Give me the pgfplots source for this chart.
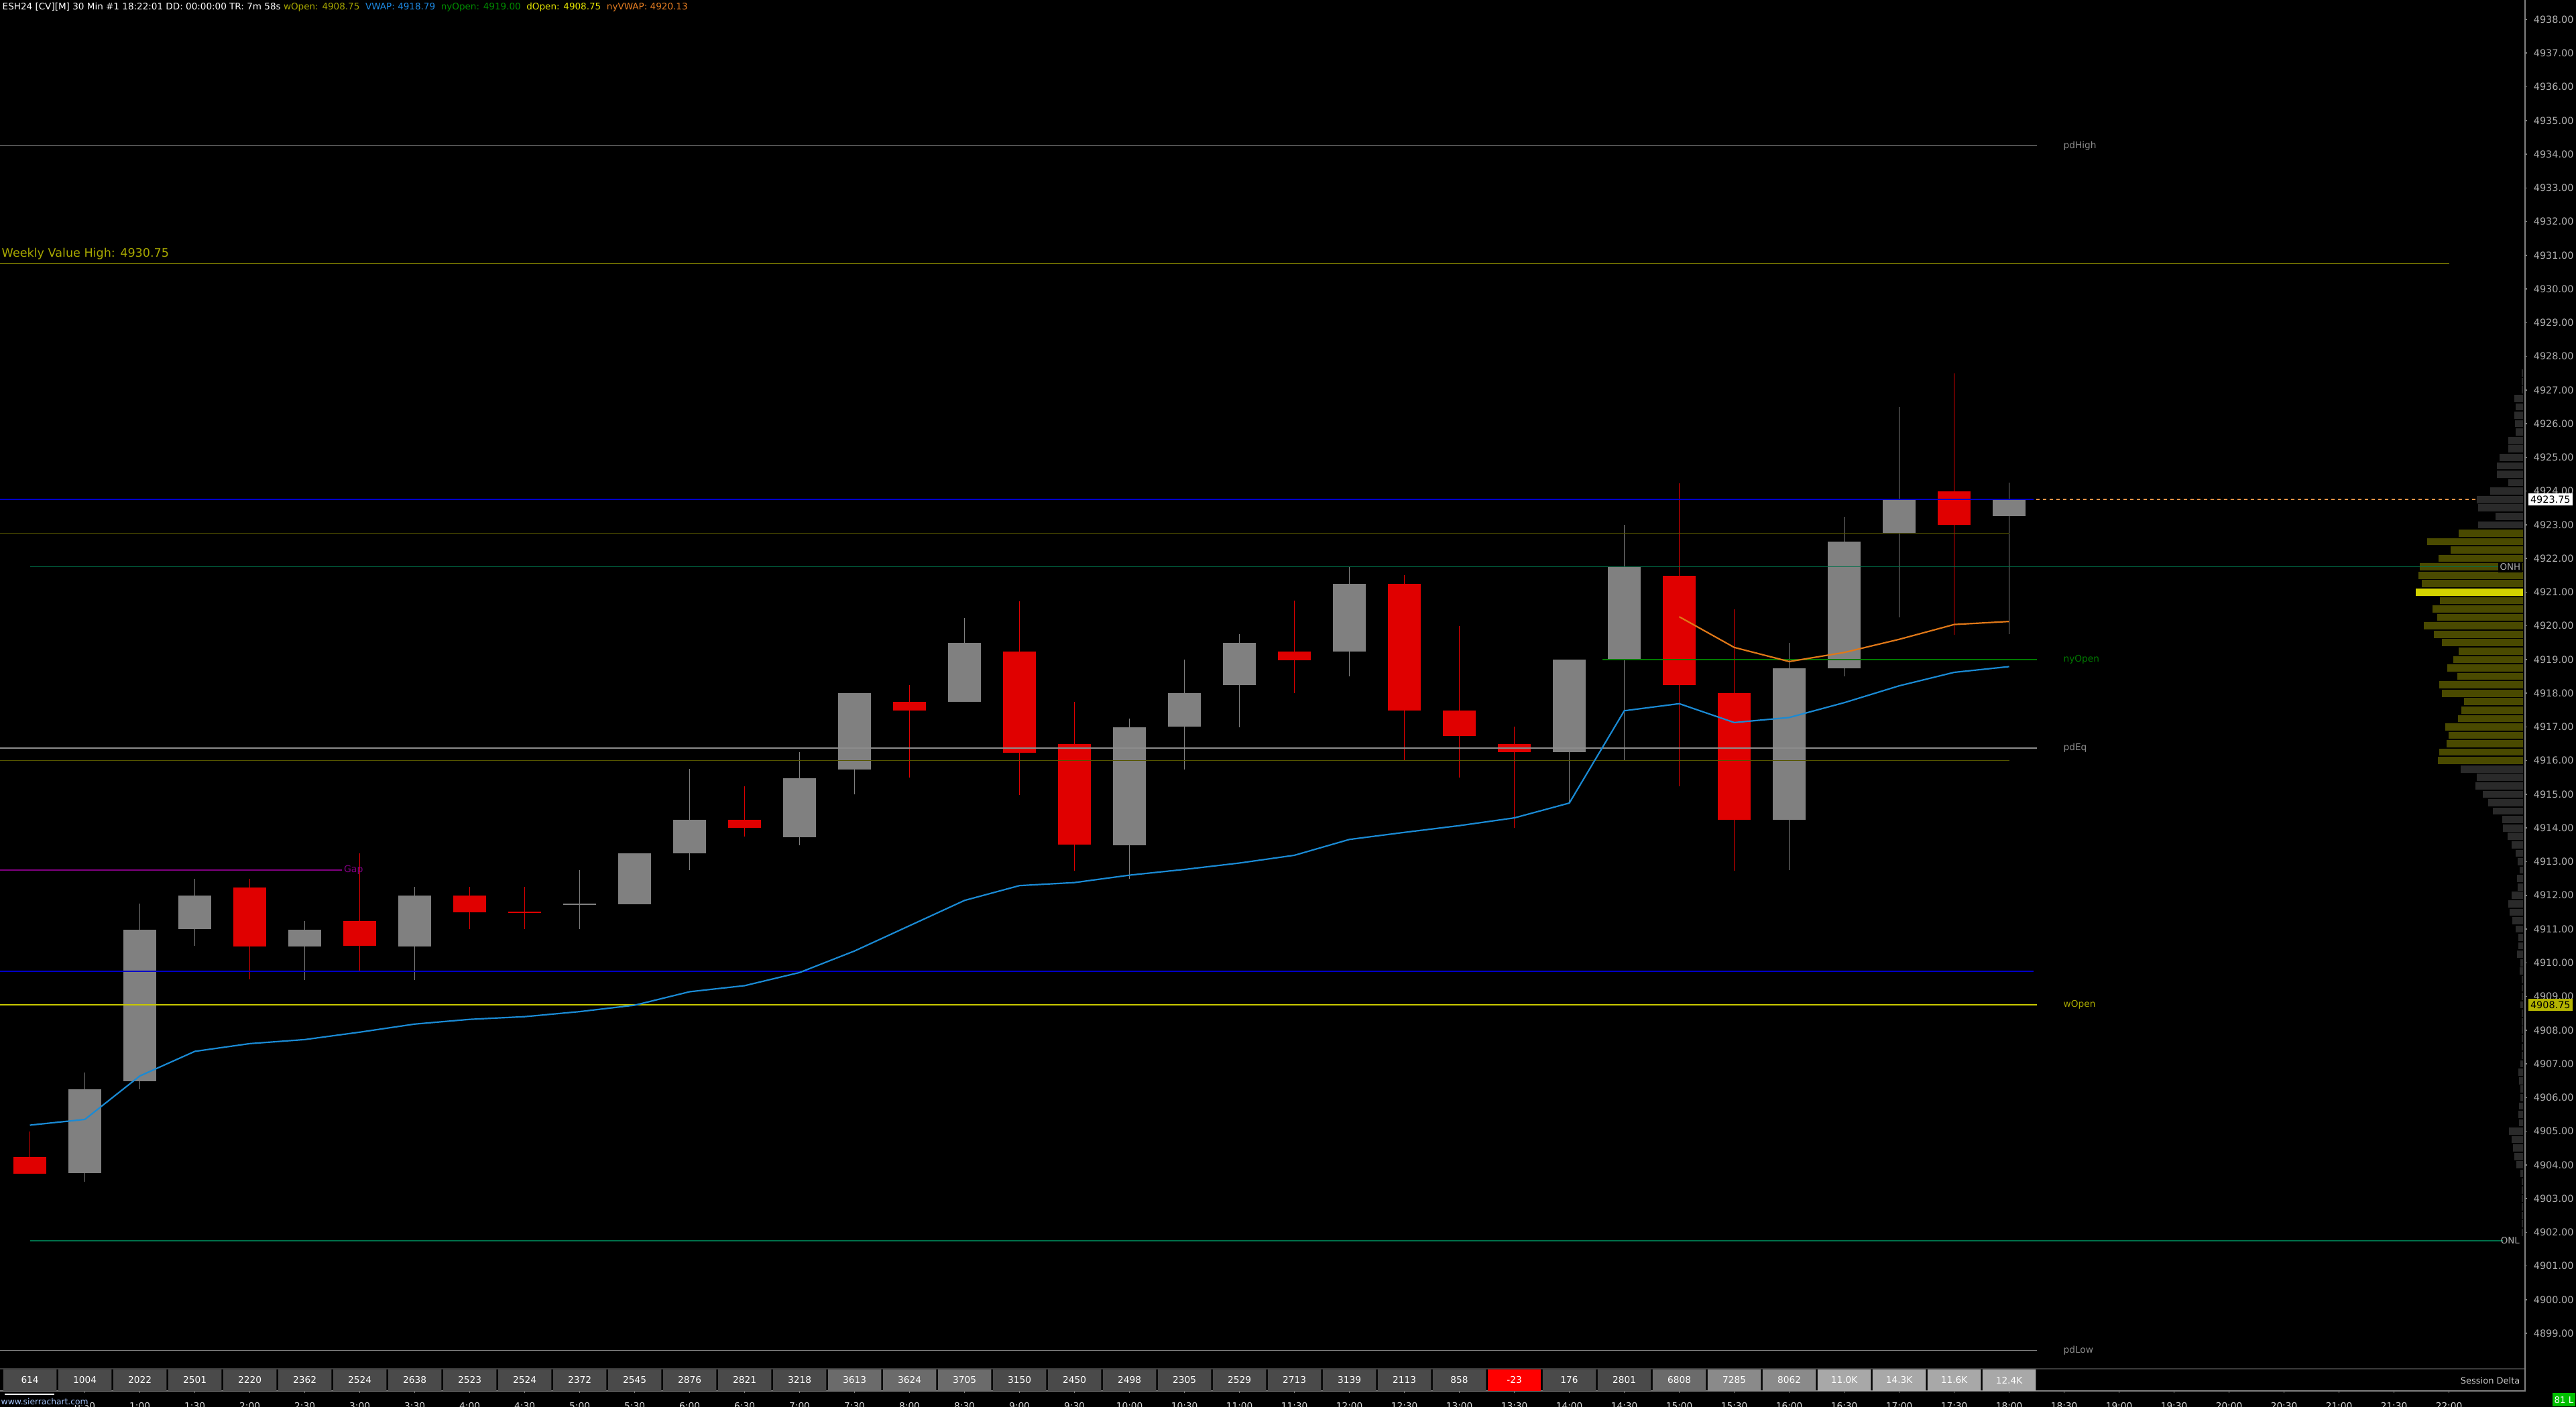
\documentclass[border=0pt]{standalone}
\usepackage{fontspec}
\setmainfont{DejaVu Sans}
\usepackage{pgfplots}
\usepackage{pgfplotstable}
\pgfplotsset{compat=1.18}

\definecolor{cgrey}{HTML}{808080}
\definecolor{cred}{HTML}{E00000}
\definecolor{vwapc}{HTML}{1A8AD4}
\definecolor{nyvwapc}{HTML}{E07818}
\definecolor{axisgrey}{HTML}{808080}
\definecolor{ticktext}{HTML}{B0B0B0}
\definecolor{profgrey}{HTML}{2A2A2A}
\definecolor{profolive}{HTML}{4A4A00}
\definecolor{profpoc}{HTML}{D4D400}
\definecolor{wvh}{HTML}{A8A800}
\definecolor{lblue}{HTML}{0000C8}
\definecolor{lolive}{HTML}{555500}
\definecolor{lteal}{HTML}{00704A}
\definecolor{lgreen}{HTML}{007A00}
\definecolor{lgap}{HTML}{800080}
\definecolor{lyellow}{HTML}{C8C800}
\definecolor{lgrey}{HTML}{8C8C8C}
\definecolor{dk}{HTML}{4A4A4A}
\definecolor{dm}{HTML}{6B6B6B}
\definecolor{dl}{HTML}{8A8A8A}
\definecolor{dx}{HTML}{A8A8A8}
\definecolor{dred}{HTML}{FF0000}
\definecolor{hwopen}{HTML}{A8A800}
\definecolor{hvwap}{HTML}{1E8CE6}
\definecolor{hnyopen}{HTML}{008C00}
\definecolor{hdopen}{HTML}{E6E600}
\definecolor{hnyvwap}{HTML}{E67E22}
\definecolor{priceyel}{HTML}{B4B400}
\definecolor{green81}{HTML}{00C000}
\definecolor{sclink}{HTML}{A8C8FF}
\definecolor{sepline}{HTML}{3A3A3A}

\newcommand\fs[1]{\fontsize{#1}{#1}\selectfont}

% candles: x = 30-min slot (0 = 0:00)
\pgfplotstableread{
x o h l c
1 4903.75 4906.75 4903.5 4906.25
2 4906.5 4911.75 4906.25 4911.0
3 4911.0 4912.5 4910.5 4912.0
5 4910.5 4911.25 4909.5 4911.0
7 4910.5 4912.25 4909.5 4912.0
10 4911.75 4912.75 4911.0 4911.75
11 4911.75 4913.25 4911.75 4913.25
12 4913.25 4915.75 4912.75 4914.25
14 4913.75 4916.25 4913.5 4915.5
15 4915.75 4918.0 4915.0 4918.0
17 4917.75 4920.25 4917.75 4919.5
20 4913.5 4917.25 4912.5 4917.0
21 4917.0 4919.0 4915.75 4918.0
22 4918.25 4919.75 4917.0 4919.5
24 4919.25 4921.75 4918.5 4921.25
28 4916.25 4919.0 4914.75 4919.0
29 4919.0 4923.0 4916.0 4921.75
32 4914.25 4919.5 4912.75 4918.75
33 4918.75 4923.25 4918.5 4922.5
34 4922.75 4926.5 4920.25 4923.75
36 4923.25 4924.25 4919.75 4923.75
}\upT

\pgfplotstableread{
x o h l c
0 4904.25 4905.0 4903.75 4903.75
4 4912.25 4912.5 4909.5 4910.5
6 4911.25 4913.25 4909.75 4910.5
8 4912.0 4912.25 4911.0 4911.5
9 4911.5 4912.25 4911.0 4911.5
13 4914.25 4915.25 4913.75 4914.0
16 4917.75 4918.25 4915.5 4917.5
18 4919.25 4920.75 4915.0 4916.25
19 4916.5 4917.75 4912.75 4913.5
23 4919.25 4920.75 4918.0 4919.0
25 4921.25 4921.5 4916.0 4917.5
26 4917.5 4920.0 4915.5 4916.75
27 4916.5 4917.0 4914.0 4916.25
30 4921.5 4924.25 4915.25 4918.25
31 4918.0 4920.5 4912.75 4914.25
35 4924.0 4927.5 4919.75 4923.0
}\downT

\pgfplotstableread{
x v
0 4905.18
1 4905.35
2 4906.64
3 4907.37
4 4907.60
5 4907.72
6 4907.94
7 4908.18
8 4908.32
9 4908.40
10 4908.55
11 4908.74
12 4909.14
13 4909.32
14 4909.71
15 4910.35
16 4911.10
17 4911.85
18 4912.29
19 4912.38
20 4912.60
21 4912.77
22 4912.96
23 4913.19
24 4913.66
25 4913.87
26 4914.07
27 4914.30
28 4914.74
29 4917.48
30 4917.69
31 4917.13
32 4917.28
33 4917.72
34 4918.22
35 4918.62
36 4918.79
}\vwapT

\pgfplotstableread{
x v
30 4920.27
31 4919.36
32 4918.94
33 4919.21
34 4919.60
35 4920.04
36 4920.13
}\nyvwapT

% volume profile: price, bar length in screen px
\pgfplotstableread{
p len
4927.5 1.5
4927.25 1.5
4927.0 1.5
4926.75 13
4926.5 11
4926.25 13
4926.0 12
4925.75 11
4925.5 22
4925.25 22
4925.0 35
4924.75 39
4924.5 39
4924.25 22
4924.0 49
4923.75 69
4923.5 67
4923.25 41
4923.0 67
4915.75 93
4915.5 69
4915.25 71
4915.0 60
4914.75 52
4914.5 45
4914.25 31
4914.0 30
4913.75 23
4913.5 17
4913.25 11
4913.0 8
4912.75 5
4912.5 9
4912.25 8
4912.0 17
4911.75 22
4911.5 20
4911.25 16
4911.0 11
4910.75 7
4910.5 7
4910.25 9
4910.0 4
4909.75 5
4909.5 2
4909.25 1.5
4909.0 1.5
4908.75 4
4908.5 1.5
4908.25 1.5
4908.0 1.5
4907.75 1.5
4907.5 1.5
4907.25 1.5
4907.0 4
4906.75 7
4906.5 6
4906.25 4
4906.0 4
4905.75 6
4905.5 7
4905.25 6
4905.0 21
4904.75 17
4904.5 15
4904.25 13
4904.0 10
4903.75 4
4903.5 1.5
4903.25 1.5
4903.0 1.5
4902.75 1.5
4902.5 1.5
4902.25 1.5
4902.0 1.5
}\profGrey

\pgfplotstableread{
p len
4922.75 96
4922.5 143
4922.25 108
4922.0 126
4921.75 154
4921.5 156
4921.25 151
4920.75 124
4920.5 135
4920.25 128
4920.0 148
4919.75 133
4919.5 121
4919.25 96
4919.0 104
4918.75 113
4918.5 98
4918.25 125
4918.0 121
4917.75 88
4917.5 92
4917.25 97
4917.0 116
4916.75 111
4916.5 114
4916.25 125
4916.0 127
}\profOlive

\pgfplotstableread{
p len
4921.0 160
}\profPoc

\pgfplotstableread{
x lab
0 614
1 1004
2 2022
3 2501
4 2220
5 2362
6 2524
7 2638
8 2523
9 2524
10 2372
11 2545
12 2876
13 2821
14 3218
15 3613
16 3624
17 3705
18 3150
19 2450
20 2498
21 2305
22 2529
23 2713
24 3139
25 2113
26 858
27 -23
28 176
29 2801
30 6808
31 7285
32 8062
33 11.0K
34 14.3K
35 11.6K
36 12.4K
}\deltaT

\pgfplotsset{
  hbars/.style={draw=none, mark=none, error bars/.cd, x dir=both, x explicit, error mark=none,
    error bar style={draw=#1, line width=1.07mm}},
  vbars/.style 2 args={draw=none, mark=none, error bars/.cd, y dir=both, y explicit, error mark=none,
    error bar style={draw=#1, line width=#2}},
}

\begin{document}
\begin{tikzpicture}
\fill[black] (0,0) rectangle (384.2mm,209.9mm);

% ---------------- main price axis ----------------
\begin{axis}[
  at={(0mm,5.7mm)}, anchor=south west, scale only axis,
  width=376.6mm, height=204.2mm,
  xmin=-0.5439, xmax=45.383, ymin=4897.948, ymax=4938.577,
  axis x line=none, axis y line=right,
  y axis line style={-, draw=axisgrey, line width=0.2mm},
  ytick={4899,4900,...,4938},
  tick align=outside, major tick length=0.35mm,
  ytick style={draw=axisgrey, line width=0.15mm},
  scaled y ticks=false,
  yticklabel style={font=\fs{4.1pt}, text=ticktext, anchor=west, xshift=-0.3mm,
    /pgf/number format/.cd, fixed, fixed zerofill, precision=2, 1000 sep={}, assume math mode=true},
  clip mode=individual,
]
% current price dashed line
\addplot[draw=nyvwapc!80!white, line width=0.15mm, dash pattern=on 0.5mm off 0.5mm] coordinates {(36,4923.75) (45.383,4923.75)};

% volume profile
\addplot[hbars=profgrey]
  table[x expr={45.346-\thisrow{len}/164}, y=p, x error expr={\thisrow{len}/164}] {\profGrey};
\addplot[hbars=profolive]
  table[x expr={45.346-\thisrow{len}/164}, y=p, x error expr={\thisrow{len}/164}] {\profOlive};
\addplot[hbars=profpoc]
  table[x expr={45.346-\thisrow{len}/164}, y=p, x error expr={\thisrow{len}/164}] {\profPoc};

% candles: wicks
\addplot[vbars={cgrey}{0.15mm}]
  table[x=x, y expr={(\thisrow{h}+\thisrow{l})/2}, y error expr={(\thisrow{h}-\thisrow{l})/2}] {\upT};
\addplot[vbars={cred}{0.15mm}]
  table[x=x, y expr={(\thisrow{h}+\thisrow{l})/2}, y error expr={(\thisrow{h}-\thisrow{l})/2}] {\downT};
% candles: bodies
\addplot[vbars={cgrey}{4.9mm}]
  table[x=x, y expr={(\thisrow{o}+\thisrow{c})/2}, y error expr={max(abs(\thisrow{o}-\thisrow{c})/2,0.02)}] {\upT};
\addplot[vbars={cred}{4.9mm}]
  table[x=x, y expr={(\thisrow{o}+\thisrow{c})/2}, y error expr={max(abs(\thisrow{o}-\thisrow{c})/2,0.02)}] {\downT};

% horizontal reference lines
\addplot[lgrey, line width=0.15mm] coordinates {(-0.6,4934.25) (36.5,4934.25)};
\addplot[wvh, line width=0.15mm] coordinates {(-0.6,4930.75) (44.0,4930.75)};
\addplot[lblue, line width=0.15mm] coordinates {(-0.6,4923.75) (36.45,4923.75)};
\addplot[lolive, line width=0.15mm] coordinates {(-0.6,4922.75) (36,4922.75)};
\addplot[lteal, line width=0.15mm] coordinates {(0,4921.75) (44.95,4921.75)};
\addplot[lgreen, line width=0.15mm] coordinates {(28.6,4919.0) (36.5,4919.0)};
\addplot[lgrey, line width=0.15mm] coordinates {(-0.6,4916.375) (36.5,4916.375)};
\addplot[lolive, line width=0.15mm] coordinates {(-0.6,4916.0) (36,4916.0)};
\addplot[lgap, line width=0.15mm] coordinates {(-0.6,4912.75) (5.68,4912.75)};
\addplot[lblue, line width=0.15mm] coordinates {(-0.6,4909.75) (36.45,4909.75)};
\addplot[lyellow, line width=0.15mm] coordinates {(-0.6,4908.75) (36.5,4908.75)};
\addplot[lteal, line width=0.15mm] coordinates {(0,4901.75) (44.98,4901.75)};
\addplot[lgrey, line width=0.15mm] coordinates {(-0.6,4898.5) (36.5,4898.5)};

% VWAP lines
\addplot[vwapc, line width=0.22mm] table[x=x, y=v] {\vwapT};
\addplot[nyvwapc, line width=0.22mm] table[x=x, y=v] {\nyvwapT};

% labels
\node[anchor=south west, inner sep=0.2mm, text=wvh, font=\fs{5pt}] at (axis cs:-0.5439,4930.82) {Weekly Value High: 4930.75};
\node[anchor=west, inner sep=0.2mm, text=lgap, font=\fs{4pt}] at (axis cs:5.68,4912.75) {Gap};
\node[anchor=west, inner sep=0pt, text=lgrey, font=\fs{3.9pt}] at (axis cs:36.98,4934.25) {pdHigh};
\node[anchor=west, inner sep=0pt, text=lgreen, font=\fs{3.9pt}] at (axis cs:36.98,4919.0) {nyOpen};
\node[anchor=west, inner sep=0pt, text=lgrey, font=\fs{3.9pt}] at (axis cs:36.98,4916.375) {pdEq};
\node[anchor=west, inner sep=0pt, text=hwopen, font=\fs{3.9pt}] at (axis cs:36.98,4908.75) {wOpen};
\node[anchor=west, inner sep=0pt, text=lgrey, font=\fs{3.9pt}] at (axis cs:36.98,4898.5) {pdLow};
\node[anchor=east, fill=black, inner sep=0.3mm, text=ticktext, font=\fs{3.8pt}] at (axis cs:45.346,4921.75) {ONH};
\node[anchor=east, inner sep=0.3mm, text=ticktext, font=\fs{3.8pt}] at (axis cs:45.33,4901.75) {ONL};
\node[anchor=west, fill=white, text=black, inner sep=0.35mm, font=\fs{4.1pt}] at (axis cs:45.43,4923.75) {4923.75};
\node[anchor=west, fill=priceyel, text=black, inner sep=0.35mm, font=\fs{4.1pt}] at (axis cs:45.43,4908.75) {4908.75};
\end{axis}

% ---------------- session delta row + time axis ----------------
\begin{axis}[
  at={(0mm,2.4mm)}, anchor=south west, scale only axis,
  width=376.6mm, height=3.2mm,
  xmin=-0.5439, xmax=45.383, ymin=0, ymax=1,
  axis x line=bottom, axis y line=none,
  x axis line style={-, draw=axisgrey, line width=0.2mm},
  xtick={1,...,44},
  xticklabels={0:30,1:00,1:30,2:00,2:30,3:00,3:30,4:00,4:30,5:00,5:30,6:00,6:30,7:00,7:30,8:00,8:30,9:00,9:30,10:00,10:30,11:00,11:30,12:00,12:30,13:00,13:30,14:00,14:30,15:00,15:30,16:00,16:30,17:00,17:30,18:00,18:30,19:00,19:30,20:00,20:30,21:00,21:30,22:00},
  tick align=outside, major tick length=0.35mm,
  xtick style={draw=axisgrey, line width=0.15mm},
  xticklabel style={font=\fs{3.9pt}, text=white!85!black, yshift=-0.1mm},
  clip=false,
]
\addplot[ybar, bar width=0.97, bar shift=0pt, fill=dk, draw=none] coordinates {(0,1) (1,1) (2,1) (3,1) (4,1) (5,1) (6,1) (7,1) (8,1) (9,1) (10,1) (11,1) (12,1) (13,1) (14,1) (18,1) (19,1) (20,1) (21,1) (22,1) (23,1) (24,1) (25,1) (26,1) (28,1) (29,1)};
\addplot[ybar, bar width=0.97, bar shift=0pt, fill=dm, draw=none] coordinates {(15,1) (16,1) (17,1) (30,1)};
\addplot[ybar, bar width=0.97, bar shift=0pt, fill=dl, draw=none] coordinates {(31,1) (32,1)};
\addplot[ybar, bar width=0.97, bar shift=0pt, fill=dx, draw=none] coordinates {(33,1) (34,1) (35,1) (36,1)};
\addplot[ybar, bar width=0.97, bar shift=0pt, fill=dred, draw=none] coordinates {(27,1)};
\addplot[draw=none, mark=none, point meta=explicit symbolic, nodes near coords,
  every node near coord/.append style={anchor=center, font=\fs{3.9pt}, text=white, inner sep=0pt}]
  table[x=x, y expr=0.5, meta=lab] {\deltaT};
\end{axis}

% frame pieces and outer texts
\draw[sepline, line width=0.15mm] (0,5.7mm) -- (376.6mm,5.7mm);
\draw[axisgrey, line width=0.2mm] (376.6mm,2.3mm) -- (376.6mm,5.8mm);
\node[anchor=east, inner sep=0pt, text=white!80!black, font=\fs{3.7pt}] at (375.9mm,3.95mm) {Session Delta};
\node[anchor=west, fill=black, inner sep=0.1mm, text=sclink, font=\fs{3.5pt}] at (0mm,0.85mm) {www.sierrachart.com};
\draw[white, line width=0.15mm] (0.7mm,1.9mm) -- (8.1mm,1.9mm);
\node[fill=green81, text=white, inner sep=0pt, minimum width=3.4mm, minimum height=2.0mm, font=\fs{3.8pt}] at (382.4mm,1.05mm) {81 L};
\node[anchor=west, inner sep=0pt, font=\fs{3.85pt}] at (0.3mm,208.8mm) {\textcolor{white}{ESH24 [CV][M] 30 Min \#1 18:22:01 DD: 00:00:00 TR: 7m 58s} \textcolor{hwopen}{wOpen: 4908.75}\ \ \textcolor{hvwap}{VWAP: 4918.79}\ \ \textcolor{hnyopen}{nyOpen: 4919.00}\ \ \textcolor{hdopen}{dOpen: 4908.75}\ \ \textcolor{hnyvwap}{nyVWAP: 4920.13}};

\pgfresetboundingbox
\path[use as bounding box] (0,0) rectangle (384.2mm,209.9mm);
\end{tikzpicture}
\end{document}
